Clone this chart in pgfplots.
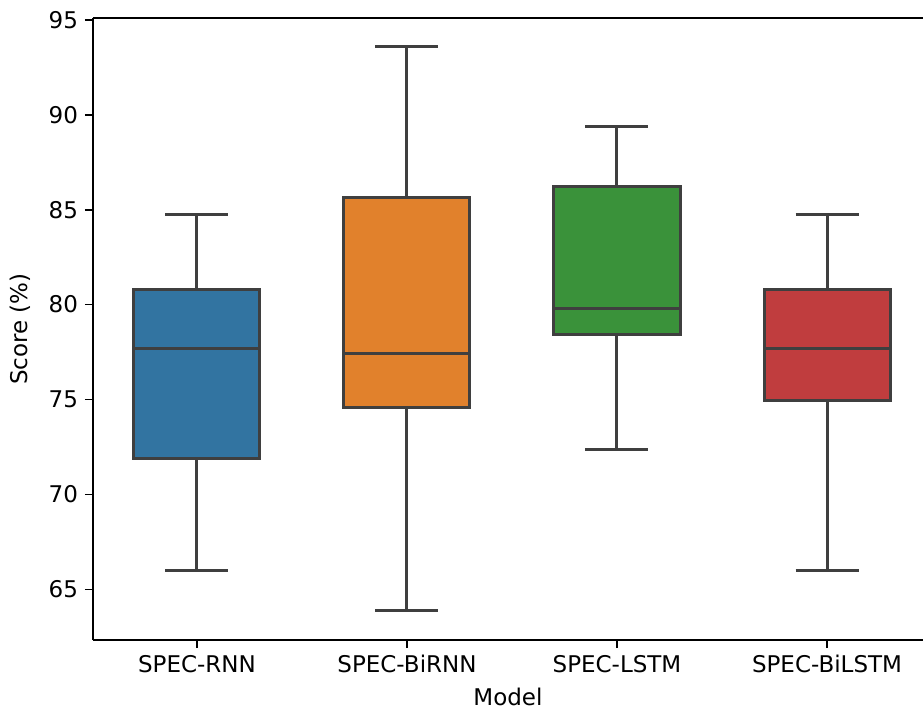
\documentclass[border=0pt]{standalone}
\usepackage{pgfplots}
\pgfplotsset{compat=1.18}
\usepackage{fontspec}
\setmainfont{DejaVu Sans}
\definecolor{cA}{HTML}{3274A1}
\definecolor{cB}{HTML}{E1812C}
\definecolor{cC}{HTML}{3A923A}
\definecolor{cD}{HTML}{C03D3E}
\definecolor{edge}{HTML}{3F3F3F}
\pgfplotsset{wk/.style={draw=edge, solid, mark=none, line width=1.5pt, line join=miter}}
\begin{document}
\begin{tikzpicture}
\begin{axis}[
  at={(0,0)}, anchor=south west,
  scale only axis,
  width=415pt, height=311pt,
  xmin=-0.495, xmax=3.457,
  ymin=62.33, ymax=95.1,
  axis y line*=left,
  axis x line*=box,
  axis line style={black, line width=0.8pt},
  tick align=outside,
  major tick length=4pt,
  tick style={black, line width=0.8pt},
  xtick pos=bottom, ytick pos=left,
  xtick={0,1,2,3},
  xticklabels={SPEC-RNN,SPEC-BiRNN,SPEC-LSTM,SPEC-BiLSTM},
  ytick={65,70,75,80,85,90,95},
  /pgf/number format/assume math mode=true,
  ticklabel style={font=\fontsize{11.5}{13}\selectfont},
  label style={font=\fontsize{11.5}{13}\selectfont},
  xlabel={Model},
  ylabel={Score (\%)},
  xlabel style={at={(axis description cs:0.5,0)}, anchor=center, yshift=-28.5pt},
  ylabel style={at={(axis description cs:0,0.5)}, anchor=center, yshift=36.5pt},
]
% ---- SPEC-RNN: lw 66.0, q1 71.9, med 77.7, q3 80.8, uw 84.75
\addplot[wk] coordinates {(0,66.0) (0,71.9)};
\addplot[wk] coordinates {(0,80.8) (0,84.75)};
\addplot[wk] coordinates {(-0.15,66.0) (0.15,66.0)};
\addplot[wk] coordinates {(-0.15,84.75) (0.15,84.75)};
\addplot[wk, fill=cA] coordinates {(-0.3,71.9) (0.3,71.9) (0.3,80.8) (-0.3,80.8)} -- cycle;
\addplot[wk] coordinates {(-0.3,77.7) (0.3,77.7)};
% ---- SPEC-BiRNN: lw 63.9, q1 74.6, med 77.45, q3 85.65, uw 93.6
\addplot[wk] coordinates {(1,63.9) (1,74.6)};
\addplot[wk] coordinates {(1,85.65) (1,93.6)};
\addplot[wk] coordinates {(0.85,63.9) (1.15,63.9)};
\addplot[wk] coordinates {(0.85,93.6) (1.15,93.6)};
\addplot[wk, fill=cB] coordinates {(0.7,74.6) (1.3,74.6) (1.3,85.65) (0.7,85.65)} -- cycle;
\addplot[wk] coordinates {(0.7,77.45) (1.3,77.45)};
% ---- SPEC-LSTM: lw 72.35, q1 78.45, med 79.8, q3 86.2, uw 89.4
\addplot[wk] coordinates {(2,72.35) (2,78.45)};
\addplot[wk] coordinates {(2,86.2) (2,89.4)};
\addplot[wk] coordinates {(1.85,72.35) (2.15,72.35)};
\addplot[wk] coordinates {(1.85,89.4) (2.15,89.4)};
\addplot[wk, fill=cC] coordinates {(1.7,78.45) (2.3,78.45) (2.3,86.2) (1.7,86.2)} -- cycle;
\addplot[wk] coordinates {(1.7,79.8) (2.3,79.8)};
% ---- SPEC-BiLSTM: lw 66.0, q1 74.95, med 77.7, q3 80.8, uw 84.75
\addplot[wk] coordinates {(3,66.0) (3,74.95)};
\addplot[wk] coordinates {(3,80.8) (3,84.75)};
\addplot[wk] coordinates {(2.85,66.0) (3.15,66.0)};
\addplot[wk] coordinates {(2.85,84.75) (3.15,84.75)};
\addplot[wk, fill=cD] coordinates {(2.7,74.95) (3.3,74.95) (3.3,80.8) (2.7,80.8)} -- cycle;
\addplot[wk] coordinates {(2.7,77.7) (3.3,77.7)};
\end{axis}
\pgfresetboundingbox
\path[use as bounding box] (-46.5pt,-34.5pt) rectangle (415pt,320pt);
\end{tikzpicture}
\end{document}
